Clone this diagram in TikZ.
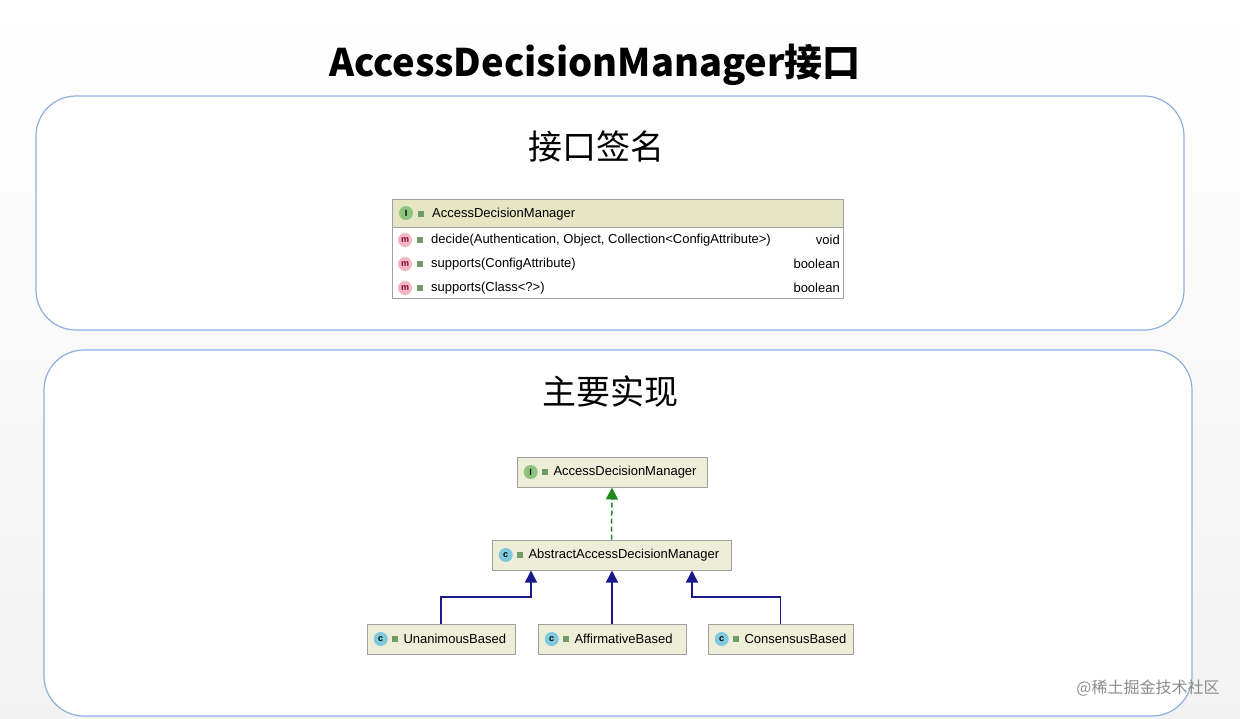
\documentclass[tikz,border=0pt]{standalone}
\usepackage{fontspec}
\setmainfont{Liberation Sans}
\newfontfamily\cjk{Noto Sans CJK SC}
\usetikzlibrary{arrows.meta,positioning}
\definecolor{panelblue}{HTML}{8DB0DE}
\definecolor{hdrfill}{HTML}{E6E6C4}
\definecolor{clsfill}{HTML}{EEEED8}
\definecolor{boxgray}{HTML}{A0A0A0}
\definecolor{ifcgreen}{HTML}{8CC47E}
\definecolor{mpink}{HTML}{F2B8C4}
\definecolor{cblue}{HTML}{7FC8DE}
\definecolor{implgreen}{HTML}{1E8A1E}
\definecolor{extblue}{HTML}{1A1A8C}
\begin{document}
\begin{tikzpicture}[
    x = 1pt, y = -1pt,
    panel/.style = {draw = panelblue, line width = 1.2pt, rounded corners = 40pt},
    heading/.style = {font = \cjk\fontsize{34}{40}\selectfont},
    cls/.style = {draw = boxgray, line width = 1pt, fill = clsfill, minimum height = 30pt,
        inner sep = 0pt},
    row/.style = {anchor = west, font = \fontsize{13}{15}\selectfont, inner sep = 0pt},
    ico/.style = {circle, inner sep = 0pt, minimum size = 14pt,
        font = \fontsize{9}{10}\selectfont\bfseries},
    lock/.style = {fill = ifcgreen!80!black, minimum width = 6pt,
        minimum height = 6pt, inner sep = 0pt},
    realize/.style = {implgreen, line width = 1.5pt, dash pattern = on 5pt off 3pt,
        -{Triangle[length = 12pt, width = 12pt]}},
    extend/.style = {extblue, line width = 1.5pt, -{Triangle[length = 12pt, width = 12pt]}},
    ]
    \useasboundingbox[top color = white, bottom color = black!5] (0,0) rectangle (1240,718);

    \node[font = \cjk\bfseries\fontsize{38}{44}\selectfont] (title) at (595,65) {AccessDecisionManager接口};

    % interface signature panel
    \draw[panel, fill = white] (36,96) rectangle (1184,330);
    \node[heading] (sigtitle) at (596,147) {接口签名};
    \draw[boxgray, line width = 1pt, fill = hdrfill] (392,199) rectangle (843,227);
    \draw[boxgray, line width = 1pt, fill = white] (392,227) rectangle (843,298);
    \node[ico, fill = ifcgreen] (hi) at (406,213) {I};
    \node[lock] (hl) at (421,214) {};
    \node[row] (hname) at (432,214) {AccessDecisionManager};
    \foreach \y/\sig/\ret [count = \i] in
        {240/{decide(Authentication, Object, Collection<ConfigAttribute>)}/void,
         264/{supports(ConfigAttribute)}/boolean,
         288/{supports(Class<?>)}/boolean} {
        \node[ico, fill = mpink, text = purple!70!black] (m\i) at (405,\y) {m};
        \node[lock] (l\i) at (420,\y) {};
        \node[row] (s\i) at (431,\y) {\sig};
        \node[row, anchor = east] (r\i) at (840,\y) {\ret};
    }

    % implementations panel
    \draw[panel, fill = white] (44,350) rectangle (1192,716);
    \node[heading] (impltitle) at (610,392) {主要实现};

    \node[cls, minimum width = 190pt] (adm) at (612,472) {};
    \node[cls, minimum width = 239pt] (aadm) at (611.5,555) {};
    \node[cls, minimum width = 148pt] (unan) at (441,639) {};
    \node[cls, minimum width = 148pt] (affi) at (612,639) {};
    \node[cls, minimum width = 145pt] (cons) at (780.5,639) {};

    \foreach \n/\l/\c/\txt in {adm/I/ifcgreen/AccessDecisionManager,
        aadm/c/cblue/AbstractAccessDecisionManager, unan/c/cblue/UnanimousBased,
        affi/c/cblue/AffirmativeBased, cons/c/cblue/ConsensusBased} {
        \node[ico, fill = \c, right = 7pt of \n.west] (\n-i) {\l};
        \node[lock, right = 4pt of \n-i] (\n-l) {};
        \node[row, right = 5pt of \n-l] (\n-t) {\txt};
    }

    \draw[realize] (aadm.north) -- (adm.south);
    \draw[extend] (unan.north) |- (531,597) -- (aadm.south -| 531,0);
    \draw[extend] (affi.north) -- (aadm.south -| affi.north);
    \draw[extend] (cons.north) |- (692,597) -- (aadm.south -| 692,0);

    \node[font = \cjk\fontsize{16}{18}\selectfont, text = black!45] (mark) at (1148,688) {@稀土掘金技术社区};
\end{tikzpicture}
\end{document}
